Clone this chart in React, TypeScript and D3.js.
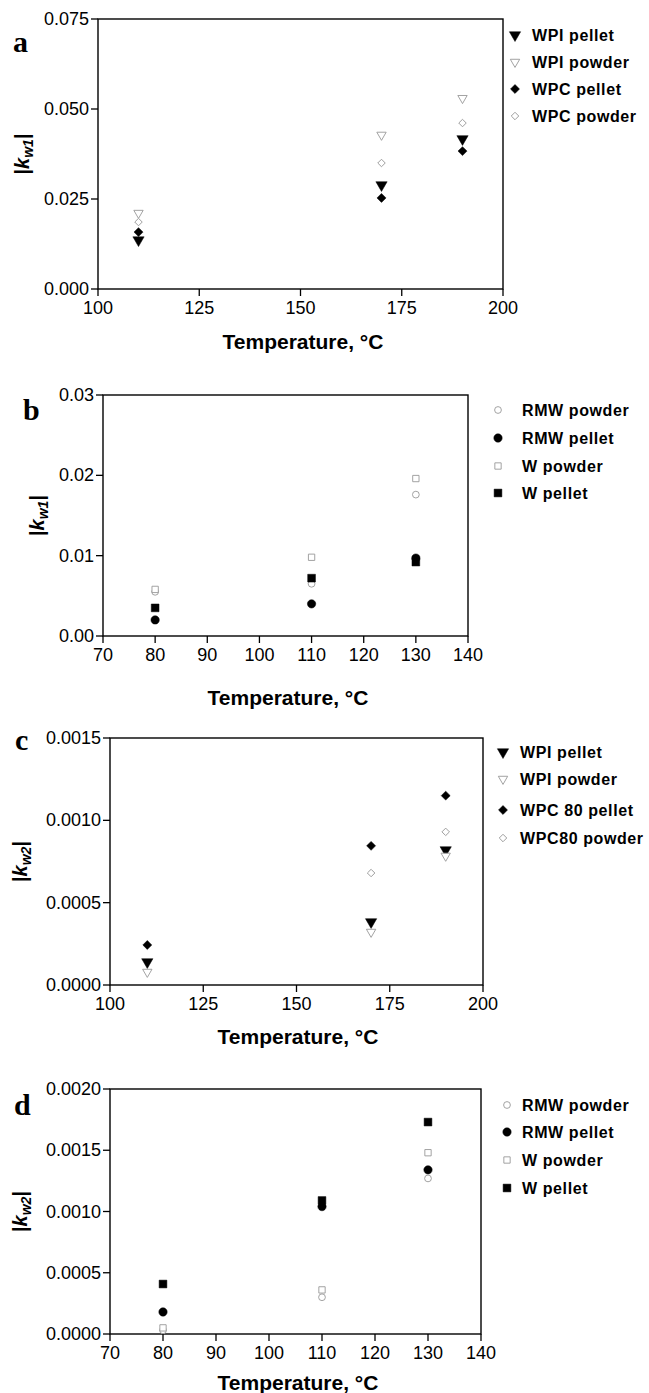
import React from "react";
import * as d3 from "d3";

// ---- Data ----
const tempsA = [110, 170, 190];
const aWpiPellet = [0.0136, 0.0289, 0.0417];
const aWpiPowder = [0.0211, 0.0428, 0.053];
const aWpcPellet = [0.0158, 0.0253, 0.0383];
const aWpcPowder = [0.0186, 0.035, 0.0461];

const tempsB = [80, 110, 130];
const bRmwPowder = [0.0055, 0.0065, 0.0176];
const bRmwPellet = [0.002, 0.004, 0.0097];
const bWPowder = [0.0058, 0.0098, 0.0196];
const bWPellet = [0.0035, 0.0072, 0.0092];

const tempsC = [110, 170, 190];
const cWpiPellet = [0.00014, 0.000383, 0.00082];
const cWpiPowder = [0.000079, 0.000322, 0.000784];
const cWpcPellet = [0.000243, 0.000845, 0.00115];
const cWpcPowder = [null, 0.00068, 0.00093];

const tempsD = [80, 110, 130];
const dRmwPowder = [0.00003, 0.0003, 0.00127];
const dRmwPellet = [0.00018, 0.00104, 0.00134];
const dWPowder = [0.00005, 0.00036, 0.00148];
const dWPellet = [0.000408, 0.00109, 0.00173];

const xTicksA = [100, 125, 150, 175, 200];
const xTicksB = [70, 80, 90, 100, 110, 120, 130, 140];
const yTicksA = [0, 0.025, 0.05, 0.075];
const yTicksB = [0, 0.01, 0.02, 0.03];
const yTicksC = [0, 0.0005, 0.001, 0.0015];
const yTicksD = [0, 0.0005, 0.001, 0.0015, 0.002];

type Shape = "triDown" | "triDownOpen" | "diamond" | "diamondOpen" | "circle" | "circleOpen" | "square" | "squareOpen";

const FONT = "Liberation Sans, Arial, sans-serif";

function Marker({ shape, x, y }: { shape: Shape; x: number; y: number }) {
  const filled = !shape.endsWith("Open");
  const base = shape.replace("Open", "");
  let type: any = d3.symbolCircle;
  let size = 60;
  let rot = 0;
  if (base === "triDown") { type = d3.symbolTriangle; size = filled ? 55 : 38; rot = 180; }
  if (base === "diamond") { type = d3.symbolSquare; size = filled ? 40 : 28; rot = 45; }
  if (base === "circle") { type = d3.symbolCircle; size = filled ? 55 : 36; }
  if (base === "square") { type = d3.symbolSquare; size = filled ? 60 : 40; }
  const d = d3.symbol().type(type).size(size)() as string;
  return (
    <path
      d={d}
      transform={`translate(${x},${y}) rotate(${rot})`}
      fill={filled ? "#000" : "#fff"}
      stroke={filled ? "#000" : "#999"}
      strokeWidth={filled ? 0.5 : 0.9}
    />
  );
}

interface Series { name: string; shape: Shape; values: (number | null)[] }

interface PanelProps {
  letter: string;
  letterX: number;
  letterY: number;
  x0: number; x1: number; yTop: number; yBot: number;
  xDomain: [number, number];
  yDomain: [number, number];
  xTicks: number[];
  yTicks: number[];
  yFmt: string;
  temps: number[];
  series: Series[];
  legendMarkerX: number;
  legendTextX: number;
  legendYs: number[];
  yLabelX: number;
  yLabelSub: string;
  titleX: number;
  titleY: number;
}

function Panel(p: PanelProps) {
  const xs = d3.scaleLinear().domain(p.xDomain).range([p.x0, p.x1]);
  const ys = d3.scaleLinear().domain(p.yDomain).range([p.yBot, p.yTop]);
  const fmt = d3.format(p.yFmt);
  const cy = (p.yTop + p.yBot) / 2;
  return (
    <g>
      <text x={p.letterX} y={p.letterY} fontFamily="Liberation Serif, Times New Roman, serif" fontWeight="bold" fontSize={30}>{p.letter}</text>
      <rect x={p.x0} y={p.yTop} width={p.x1 - p.x0} height={p.yBot - p.yTop} fill="none" stroke="#000" strokeWidth={1.4} />
      {p.xTicks.map((t) => (
        <g key={"x" + t}>
          <line x1={xs(t)} x2={xs(t)} y1={p.yBot} y2={p.yBot + 7} stroke="#000" strokeWidth={1.3} />
          <text x={xs(t)} y={p.yBot + 25} textAnchor="middle" fontFamily={FONT} fontSize={18}>{t}</text>
        </g>
      ))}
      {p.yTicks.map((t) => (
        <g key={"y" + t}>
          <line x1={p.x0 - 7} x2={p.x0} y1={ys(t)} y2={ys(t)} stroke="#000" strokeWidth={1.3} />
          <text x={p.x0 - 9} y={ys(t) + 6} textAnchor="end" fontFamily={FONT} fontSize={18}>{fmt(t)}</text>
        </g>
      ))}
      {p.series.map((s) =>
        s.values.map((v, i) =>
          v == null ? null : <Marker key={s.name + i} shape={s.shape} x={xs(p.temps[i])} y={ys(v)} />
        )
      )}
      {p.series.map((s, i) => (
        <g key={"leg" + s.name}>
          <Marker shape={s.shape} x={p.legendMarkerX} y={p.legendYs[i]} />
          <text x={p.legendTextX} y={p.legendYs[i] + 6} fontFamily={FONT} fontWeight="bold" fontSize={16} letterSpacing={0.6}>{s.name}</text>
        </g>
      ))}
      <text transform={`translate(${p.yLabelX + 7},${cy}) rotate(-90)`} textAnchor="middle" fontFamily={FONT} fontWeight="bold" fontSize={20}>
        <tspan>|</tspan>
        <tspan fontStyle="italic">k</tspan>
        <tspan fontStyle="italic" fontSize={14} dy={4}>w</tspan>
        <tspan fontStyle="italic" fontSize={14}>{p.yLabelSub}</tspan>
        <tspan dy={-4}>|</tspan>
      </text>
      <text x={p.titleX} y={p.titleY} textAnchor="middle" fontFamily={FONT} fontWeight="bold" fontSize={21}>Temperature, °C</text>
    </g>
  );
}

export default function App() {
  return (
    <svg width={649} height={1393} style={{ position: "absolute", left: 0, top: 0, background: "#fff" }}>
      <rect width={649} height={1393} fill="#fff" />
      <Panel
        letter="a" letterX={13} letterY={52}
        x0={98} x1={503} yTop={19} yBot={289}
        xDomain={[100, 200]} yDomain={[0, 0.075]}
        xTicks={xTicksA} yTicks={yTicksA} yFmt=".3f"
        temps={tempsA}
        series={[
          { name: "WPI pellet", shape: "triDown", values: aWpiPellet },
          { name: "WPI powder", shape: "triDownOpen", values: aWpiPowder },
          { name: "WPC pellet", shape: "diamond", values: aWpcPellet },
          { name: "WPC powder", shape: "diamondOpen", values: aWpcPowder },
        ]}
        legendMarkerX={515} legendTextX={532} legendYs={[35, 62, 89, 116]}
        yLabelX={22} yLabelSub="1" titleX={303} titleY={349}
      />
      <Panel
        letter="b" letterX={23} letterY={420}
        x0={103} x1={468} yTop={395} yBot={636}
        xDomain={[70, 140]} yDomain={[0, 0.03]}
        xTicks={xTicksB} yTicks={yTicksB} yFmt=".2f"
        temps={tempsB}
        series={[
          { name: "RMW powder", shape: "circleOpen", values: bRmwPowder },
          { name: "RMW pellet", shape: "circle", values: bRmwPellet },
          { name: "W powder", shape: "squareOpen", values: bWPowder },
          { name: "W pellet", shape: "square", values: bWPellet },
        ]}
        legendMarkerX={498} legendTextX={522} legendYs={[410, 438, 466, 493]}
        yLabelX={37} yLabelSub="1" titleX={288} titleY={705}
      />
      <Panel
        letter="c" letterX={15} letterY={750}
        x0={110} x1={483} yTop={738} yBot={985}
        xDomain={[100, 200]} yDomain={[0, 0.0015]}
        xTicks={xTicksA} yTicks={yTicksC} yFmt=".4f"
        temps={tempsC}
        series={[
          { name: "WPI pellet", shape: "triDown", values: cWpiPellet },
          { name: "WPI powder", shape: "triDownOpen", values: cWpiPowder },
          { name: "WPC 80 pellet", shape: "diamond", values: cWpcPellet },
          { name: "WPC80 powder", shape: "diamondOpen", values: cWpcPowder },
        ]}
        legendMarkerX={503} legendTextX={520} legendYs={[752, 779, 810, 838]}
        yLabelX={20} yLabelSub="2" titleX={298} titleY={1044}
      />
      <Panel
        letter="d" letterX={14} letterY={1115}
        x0={110} x1={481} yTop={1089} yBot={1334}
        xDomain={[70, 140]} yDomain={[0, 0.002]}
        xTicks={xTicksB} yTicks={yTicksD} yFmt=".4f"
        temps={tempsD}
        series={[
          { name: "RMW powder", shape: "circleOpen", values: dRmwPowder },
          { name: "RMW pellet", shape: "circle", values: dRmwPellet },
          { name: "W powder", shape: "squareOpen", values: dWPowder },
          { name: "W pellet", shape: "square", values: dWPellet },
        ]}
        legendMarkerX={507} legendTextX={522} legendYs={[1105, 1132, 1160, 1188]}
        yLabelX={20} yLabelSub="2" titleX={298} titleY={1390}
      />
    </svg>
  );
}
